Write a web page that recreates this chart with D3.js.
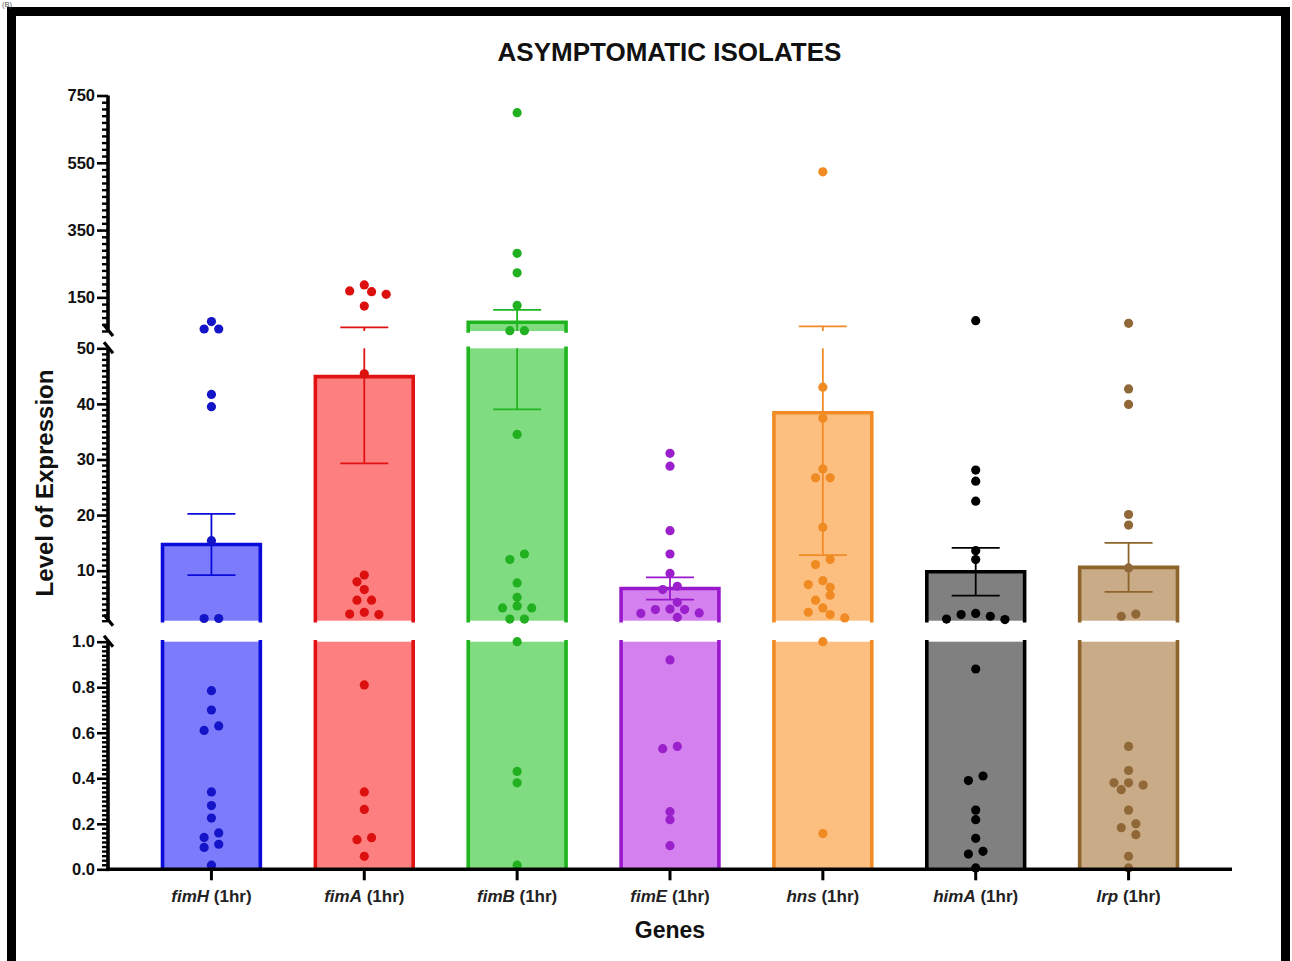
<!DOCTYPE html>
<html>
<head>
<meta charset="utf-8">
<script src="https://cdn.jsdelivr.net/npm/d3@7"></script>
<style>
  html, body { margin: 0; padding: 0; background: #fff; }
  svg { display: block; }
  text { font-family: "Liberation Sans", Arial, Helvetica, sans-serif; }
</style>
</head>
<body>
<svg id="chart" width="1292" height="961"></svg>
<script>
// ---- data -------------------------------------------------------------
const genes = ["fimH", "fimA", "fimB", "fimE", "hns", "himA", "lrp"];
const timeLabel = " (1hr)";

// group means and standard errors (Level of Expression)
const meanValues = [14.7, 44.9, 76, 6.8, 38.4, 9.8, 10.6];
const semValues  = [5.5, 15.6, 37, 2.0, 25.6, 4.3, 4.4];

// individual isolates per gene
const fimH = [78, 56, 56, 41.7, 39.5, 15.4, 1.4, 1.4, 0.785, 0.70, 0.63, 0.61, 0.34, 0.28, 0.225, 0.16, 0.14, 0.11, 0.096, 0.018];
const fimA = [187, 169, 167, 159, 124, 45.4, 9.2, 8.0, 6.6, 4.7, 4.7, 2.5, 2.2, 2.1, 0.81, 0.34, 0.263, 0.139, 0.13, 0.057];
const fimB = [699, 281, 223, 126, 51, 51, 34.5, 13.0, 12.0, 7.8, 5.2, 3.65, 3.3, 3.3, 1.3, 1.3, 1.0, 0.43, 0.38, 0.018];
const fimE = [31.1, 28.8, 17.2, 13.0, 9.5, 7.2, 6.6, 4.3, 3.1, 3.0, 3.0, 2.4, 2.3, 1.6, 0.92, 0.54, 0.53, 0.253, 0.218, 0.104];
const hns  = [523, 43.0, 37.4, 28.3, 26.7, 26.7, 17.8, 12.0, 11.1, 8.2, 7.5, 7.0, 5.6, 4.7, 3.3, 2.5, 2.1, 1.5, 1.0, 0.157];
const himA = [80.6, 28.1, 26.1, 22.5, 13.6, 12.0, 2.3, 2.1, 1.8, 1.3, 1.2, 0.88, 0.41, 0.39, 0.26, 0.218, 0.136, 0.079, 0.067, 0.006];
const lrp  = [72.9, 42.7, 39.9, 20.1, 18.2, 10.5, 2.2, 1.8, 0.54, 0.434, 0.38, 0.38, 0.37, 0.35, 0.26, 0.20, 0.183, 0.152, 0.057, 0.006];
const isolates = [fimH, fimA, fimB, fimE, hns, himA, lrp];

// y axis pieces: [low, high] of each segment and its tick values
const segLow  = [0, 1, 50];
const segHigh = [1, 50, 750];
const majorTicks = [[0, 0.2, 0.4, 0.6, 0.8, 1.0], [10, 20, 30, 40, 50], [150, 350, 550, 750]];
const minorStep  = [0.02, 1, 20];
const tickFormats = [".1f", "d", "d"];

// ---- styles -----------------------------------------------------------
const fillColors   = ["#7b7bfb", "#fe7f7f", "#80dc80", "#d480ef", "#fdbf80", "#808080", "#c9ab88"];
const strokeColors = ["#0b0bdc", "#e01212", "#1fb51f", "#9a18cc", "#f28b26", "#000000", "#8d6429"];
const dotColors    = ["#1414c8", "#dd1010", "#20b020", "#9a20cc", "#f08a22", "#000000", "#906838"];

const svg = d3.select("#chart");

// outer frame and panel tag
svg.append("rect")
  .attr("x", 11.5).attr("y", 11.5).attr("width", 1274).attr("height", 1000)
  .attr("fill", "none").attr("stroke", "#000").attr("stroke-width", 9);
svg.append("text").attr("x", 2).attr("y", 6.5).attr("font-size", 7.5).attr("fill", "#555").text("(B)");

// ---- scales -----------------------------------------------------------
const x = d3.scaleBand()
  .domain(genes)
  .range([135, 1205])
  .paddingInner(0.36)
  .paddingOuter(0.18);

const segPixels = [[869.3, 641.7], [620.7, 348.3], [331, 95.5]];
const segScales = segLow.map((lo, i) =>
  d3.scaleLinear().domain([lo, segHigh[i]]).range(segPixels[i]));

function segIndex(v) { return v <= segHigh[0] ? 0 : (v <= segHigh[1] ? 1 : 2); }
function yOf(v) { return segScales[segIndex(v)](v); }

const axisX = 108;

// ---- bars -------------------------------------------------------------
const barLayer = svg.append("g");
genes.forEach((g, gi) => {
  const m = meanValues[gi];
  const x0 = x(g), bw = x.bandwidth();
  segScales.forEach((sc, si) => {
    if (m <= segLow[si]) return;
    const top = Math.min(m, segHigh[si]);
    const yTop = sc(top), yBot = sc(segLow[si]);
    barLayer.append("rect")
      .attr("x", x0).attr("y", yTop).attr("width", bw).attr("height", yBot - yTop)
      .attr("fill", fillColors[gi]);
    const path = d3.path();
    path.moveTo(x0, yBot); path.lineTo(x0, yTop);
    if (m < segHigh[si]) { path.lineTo(x0 + bw, yTop); } else { path.moveTo(x0 + bw, yTop); }
    path.lineTo(x0 + bw, yBot);
    barLayer.append("path").attr("d", path.toString())
      .attr("fill", "none").attr("stroke", strokeColors[gi]).attr("stroke-width", 3.6)
      .attr("stroke-linejoin", "miter").attr("stroke-linecap", "square");
  });
});

// ---- error bars (mean ± SEM), cut at the axis breaks --------------------
const errLayer = svg.append("g");
genes.forEach((g, gi) => {
  const cx = x(g) + x.bandwidth() / 2;
  const lo = meanValues[gi] - semValues[gi];
  const hi = meanValues[gi] + semValues[gi];
  segScales.forEach((sc, si) => {
    const a = Math.max(lo, segLow[si]), b = Math.min(hi, segHigh[si]);
    if (a >= b) return;
    errLayer.append("line")
      .attr("x1", cx).attr("x2", cx).attr("y1", sc(a)).attr("y2", sc(b))
      .attr("stroke", strokeColors[gi]).attr("stroke-width", 1.8);
  });
  [lo, hi].forEach(v => {
    errLayer.append("line")
      .attr("x1", cx - 24).attr("x2", cx + 24).attr("y1", yOf(v)).attr("y2", yOf(v))
      .attr("stroke", strokeColors[gi]).attr("stroke-width", 1.8);
  });
});

// ---- individual points, spread sideways so they do not overlap ----------
const halfStep = 7.3, reachX = 14.2, reachY = 7.6;
function spread(values) {
  const pts = values.map(v => ({ v, y: yOf(v), off: 0 }));
  const order = pts.slice().sort((a, b) => a.y - b.y);
  const placed = [];
  order.forEach(p => {
    for (let k = 0; k < 40; k++) {
      const off = k === 0 ? 0 : (k % 2 ? -1 : 1) * Math.ceil(k / 2) * halfStep;
      const free = placed.every(q =>
        ((q.off - off) / reachX) ** 2 + ((q.y - p.y) / reachY) ** 2 >= 1);
      if (free) { p.off = off; break; }
    }
    placed.push(p);
  });
  // centre each vertically chained cluster on the bar
  const recentre = grp => {
    const mid = (d3.min(grp, d => d.off) + d3.max(grp, d => d.off)) / 2;
    const shift = Math.round(mid / halfStep) * halfStep;
    grp.forEach(d => { d.off -= shift; });
  };
  let grp = [];
  order.forEach((p, i) => {
    if (i > 0 && p.y - order[i - 1].y >= reachY) { recentre(grp); grp = []; }
    grp.push(p);
  });
  if (grp.length) recentre(grp);
  return pts;
}

const dotLayer = svg.append("g");
genes.forEach((g, gi) => {
  const cx = x(g) + x.bandwidth() / 2;
  dotLayer.selectAll(null)
    .data(spread(isolates[gi]))
    .join("circle")
    .attr("cx", d => cx + d.off)
    .attr("cy", d => d.y)
    .attr("r", 4.6)
    .attr("fill", dotColors[gi]);
});

// ---- y axis (three pieces) --------------------------------------------
const yAxisLayer = svg.append("g").attr("transform", `translate(${axisX},0)`);
segScales.forEach((sc, si) => {
  const minors = d3.range(segLow[si], segHigh[si] + minorStep[si] / 2, minorStep[si])
    .filter(v => !majorTicks[si].some(t => Math.abs(t - v) < minorStep[si] / 2));
  yAxisLayer.append("g")
    .call(d3.axisLeft(sc).tickValues(minors).tickSize(6).tickFormat(""))
    .call(g => g.select(".domain").remove())
    .call(g => g.selectAll("line").attr("stroke", "#000").attr("stroke-width", 2.4));
  yAxisLayer.append("g")
    .call(d3.axisLeft(sc).tickValues(majorTicks[si]).tickSize(11).tickPadding(2)
      .tickFormat(d3.format(tickFormats[si])))
    .call(g => g.select(".domain").remove())
    .call(g => g.selectAll("line").attr("stroke", "#000").attr("stroke-width", 2.6))
    .call(g => g.selectAll("text")
      .attr("font-size", 16.5).attr("font-weight", "bold").attr("fill", "#111")
      .attr("font-family", "'Liberation Sans', Arial, sans-serif"));
  // spine
  yAxisLayer.append("line")
    .attr("x1", 0).attr("x2", 0)
    .attr("y1", sc.range()[0] + (si === 0 ? 1.8 : 0)).attr("y2", sc.range()[1])
    .attr("stroke", "#000").attr("stroke-width", 3.6);
  // break marks at the cut ends
  const ends = [];
  if (si > 0) ends.push(sc.range()[0]);
  if (si < 2) ends.push(sc.range()[1]);
  ends.forEach(yy => {
    yAxisLayer.append("line")
      .attr("x1", -4).attr("y1", yy - 6).attr("x2", 5).attr("y2", yy + 5)
      .attr("stroke", "#000").attr("stroke-width", 3.2);
  });
});

// ---- x axis -----------------------------------------------------------
const xAxisY = 869.3;
svg.append("line")
  .attr("x1", axisX - 1.8).attr("x2", 1232).attr("y1", xAxisY).attr("y2", xAxisY)
  .attr("stroke", "#000").attr("stroke-width", 3.6);
const xTicks = svg.append("g");
genes.forEach((g, gi) => {
  const cx = x(g) + x.bandwidth() / 2;
  xTicks.append("line").attr("x1", cx).attr("x2", cx).attr("y1", xAxisY).attr("y2", xAxisY + 11)
    .attr("stroke", "#000").attr("stroke-width", 3);
  const t = xTicks.append("text").attr("x", cx).attr("y", 902)
    .attr("text-anchor", "middle").attr("font-size", 17).attr("font-weight", "bold").attr("fill", "#222");
  t.append("tspan").attr("font-style", "italic").text(g);
  t.append("tspan").text(timeLabel);
});

// ---- titles -----------------------------------------------------------
svg.append("text").attr("x", 669.5).attr("y", 61).attr("text-anchor", "middle")
  .attr("font-size", 26).attr("font-weight", "bold").attr("fill", "#111")
  .text("ASYMPTOMATIC ISOLATES");
svg.append("text").attr("x", 670).attr("y", 938).attr("text-anchor", "middle")
  .attr("font-size", 23).attr("font-weight", "bold").attr("fill", "#111")
  .text("Genes");
svg.append("text").attr("transform", "translate(53,483) rotate(-90)").attr("text-anchor", "middle")
  .attr("font-size", 24).attr("font-weight", "bold").attr("fill", "#111")
  .text("Level of Expression");
</script>
</body>
</html>
